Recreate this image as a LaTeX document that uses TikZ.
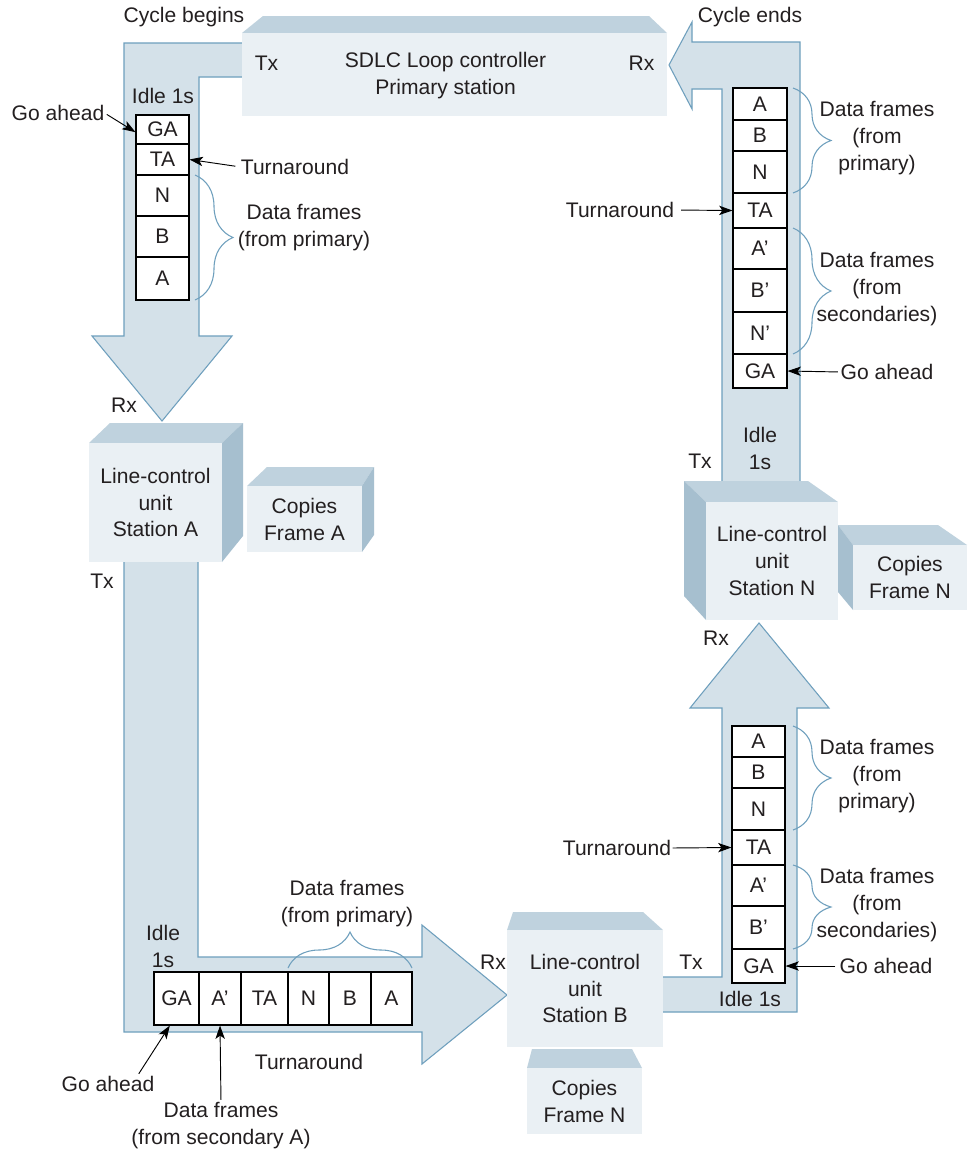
\documentclass[tikz,border=0pt]{standalone}
\usepackage{fontspec}
\setmainfont{Liberation Sans}
\usetikzlibrary{arrows.meta,decorations.pathreplacing,calc}
\definecolor{pipefill}{HTML}{D4E1E9}
\definecolor{pipeline}{HTML}{6E9FBD}
\definecolor{boxfront}{HTML}{EAF0F4}
\definecolor{boxtop}{HTML}{BFD2DE}
\definecolor{boxside}{HTML}{A6BFCF}
\definecolor{txt}{HTML}{231F20}
\newcommand{\cellnode}[6]{\node[cell, minimum width={(#4-#2)*0.75pt}, minimum height={(#5-#3)*0.75pt}] (#1) at ({(#2+#4)/2},{(#3+#5)/2}) {#6};}
\newcommand{\facenode}[6]{\node[front, minimum width={(#4-#2)*0.75pt}, minimum height={(#5-#3)*0.75pt}] (#1) at ({(#2+#4)/2},{(#3+#5)/2}) {#6};}
\begin{document}
\begin{tikzpicture}[x=0.75pt,y=-0.75pt,
  every node/.style={font=\fontsize{15.8}{20.2}\selectfont, text=txt},
  pipe/.style={fill=pipefill, draw=pipeline, line width=0.8pt, line join=miter},
  front/.style={fill=boxfront, draw=none, inner sep=0pt, align=center},
  topface/.style={fill=boxtop},
  sideface/.style={fill=boxside},
  cell/.style={draw=black, fill=white, line width=0.8pt, inner sep=0pt},
  lbl/.style={inner sep=0pt, align=center},
  arr/.style={-{Stealth[length=10pt,width=7pt,inset=2.5pt]}, line width=0.7pt, draw=black},
  brc/.style={draw=pipeline, line width=0.8pt, decorate, decoration={brace, amplitude=#1}},
]
\useasboundingbox[fill=white] (0,0) rectangle (968,1153);

% ---------- pipes ----------
\draw[pipe] (250,43) -- (124,43) -- (124,336) -- (92,336) -- (162,421) -- (232,336) -- (199,336) -- (199,77) -- (250,77);
\draw[pipe] (669,65) -- (692,22) -- (692,42) -- (800,42) -- (800,492) -- (722,492) -- (722,89) -- (692,89) -- (692,109) -- cycle;
\draw[pipe] (198,550) -- (198,957) -- (422,957) -- (422,925) -- (507,995) -- (422,1064) -- (422,1032) -- (124,1032) -- (124,550);
\draw[pipe] (655,977) -- (722,977) -- (722,708) -- (690,708) -- (759,623) -- (829,708) -- (797,708) -- (797,1012) -- (655,1012);

% ---------- SDLC primary station ----------
\fill[topface] (242,33) -- (263,16) -- (649,16) -- (667,33) -- cycle;
\facenode{sdlc}{242}{33}{667}{116}{}
\node[lbl] (sdlcT) at (445.5,76) {SDLC Loop controller\\Primary station};
\node[lbl] (sdlcTx) at (266.5,63) {Tx};
\node[lbl] (sdlcRx) at (641.5,63) {Rx};

% ---------- Station A ----------
\fill[topface] (89,443) -- (110,423) -- (243,423) -- (222,443) -- cycle;
\fill[sideface] (222,443) -- (243,423) -- (243,536) -- (222,562) -- cycle;
\facenode{stA}{89}{443}{222}{562}{Line-control\\unit\\Station A}
\fill[topface] (247,486) -- (267,467) -- (374,467) -- (362,486) -- cycle;
\fill[sideface] (362,486) -- (374,467) -- (374,535) -- (362,552) -- cycle;
\facenode{cpA}{247}{486}{362}{552}{Copies\\Frame A}

% ---------- Station N ----------
\fill[topface] (684,481) -- (808,481) -- (838,502) -- (706,502) -- cycle;
\fill[sideface] (684,481) -- (706,502) -- (706,620) -- (684,596) -- cycle;
\facenode{stN}{706}{502}{838}{620}{Line-control\\unit\\Station N}
\fill[topface] (838,525) -- (938,525) -- (967,545) -- (853,545) -- cycle;
\fill[sideface] (838,525) -- (853,545) -- (853,610) -- (838,592) -- cycle;
\facenode{cpN}{853}{545}{967}{610}{Copies\\Frame N}

% ---------- Station B ----------
\fill[topface] (507,930) -- (513,912) -- (643,912) -- (663,930) -- cycle;
\facenode{stB}{507}{930}{663}{1047}{Line-control\\unit\\Station B}
\fill[topface] (527,1068) -- (532,1049) -- (632,1049) -- (642,1068) -- cycle;
\facenode{cpB}{527}{1068}{642}{1134}{Copies\\Frame N}

% ---------- frame cells: top left ----------
\cellnode{tlGA}{136}{115}{189}{144}{GA}
\cellnode{tlTA}{136}{144}{189}{175}{TA}
\cellnode{tlN}{136}{175}{189}{216}{N}
\cellnode{tlB}{136}{216}{189}{257}{B}
\cellnode{tlA}{136}{257}{189}{300}{A}

% ---------- frame cells: top right ----------
\cellnode{trA}{733}{88}{787}{120}{A}
\cellnode{trB}{733}{120}{787}{151}{B}
\cellnode{trN}{733}{151}{787}{193}{N}
\cellnode{trTA}{733}{193}{787}{228}{TA}
\cellnode{trAp}{733}{228}{787}{269}{A’}
\cellnode{trBp}{733}{269}{787}{312}{B’}
\cellnode{trNp}{733}{312}{787}{354}{N’}
\cellnode{trGA}{733}{354}{787}{388}{GA}

% ---------- frame cells: bottom right ----------
\cellnode{brA}{732}{726}{785}{757}{A}
\cellnode{brB}{732}{757}{785}{788}{B}
\cellnode{brN}{732}{788}{785}{830}{N}
\cellnode{brTA}{732}{830}{785}{865}{TA}
\cellnode{brAp}{732}{865}{785}{906}{A’}
\cellnode{brBp}{732}{906}{785}{949}{B’}
\cellnode{brGA}{732}{949}{785}{983}{GA}

% ---------- frame cells: bottom ----------
\cellnode{bGA}{154}{972}{199}{1025}{GA}
\cellnode{bAp}{199}{972}{241}{1025}{A’}
\cellnode{bTA}{241}{972}{288}{1025}{TA}
\cellnode{bN}{288}{972}{329}{1025}{N}
\cellnode{bB}{329}{972}{371}{1025}{B}
\cellnode{bA}{371}{972}{412}{1025}{A}

% ---------- labels ----------
\node[lbl] (cycB) at (184,17) {Cycle begins};
\node[lbl] (cycE) at (750,17) {Cycle ends};
\node[lbl] (idle1) at (163,96) {Idle 1s};
\node[lbl] (ga1) at (58,113) {Go ahead};
\node[lbl] (ta1) at (295,167) {Turnaround};
\node[lbl] (df1) at (304,228) {Data frames\\(from primary)};
\node[lbl] (rxA) at (124,405) {Rx};
\node[lbl] (txA) at (102,581) {Tx};

\node[lbl] (ta2) at (620,210) {Turnaround};
\node[lbl] (df2) at (877,138) {Data frames\\(from\\primary)};
\node[lbl] (df3) at (877,289) {Data frames\\(from\\secondaries)};
\node[lbl] (ga2) at (887,372) {Go ahead};
\node[lbl] (idle2) at (760,448) {Idle\\1s};
\node[lbl] (txN) at (700,461) {Tx};
\node[lbl] (rxN) at (716,638) {Rx};

\node[lbl] (ta3) at (617,848) {Turnaround};
\node[lbl] (df4) at (877,776) {Data frames\\(from\\primary)};
\node[lbl] (df5) at (877,905) {Data frames\\(from\\secondaries)};
\node[lbl] (ga3) at (886,966) {Go ahead};
\node[lbl] (txB) at (691,962) {Tx};
\node[lbl] (idle3) at (750,999) {Idle 1s};
\node[lbl] (rxB) at (493,962) {Rx};

\node[lbl] (idle4) at (163,946) {Idle\\1s};
\node[lbl] (df6) at (347,904) {Data frames\\(from primary)};
\node[lbl] (ta4) at (309,1062) {Turnaround};
\node[lbl] (ga4) at (108,1084) {Go ahead};
\node[lbl] (dsA) at (221,1126) {Data frames\\(from secondary A)};

% ---------- braces ----------
\draw[brc=28.5pt] (195,175) -- (195,300);
\draw[brc=28.5pt] (793,88) -- (793,193);
\draw[brc=28.5pt] (793,228) -- (793,354);
\draw[brc=28.5pt] (793,726) -- (793,830);
\draw[brc=28.5pt] (793,865) -- (793,949);
\draw[brc=27pt] (288,968) -- (412,968);

% ---------- arrows ----------
\draw[arr, shorten <=2pt] (ga1.east) -- ([yshift=-2pt]tlGA.west);
\draw[arr, shorten <=4pt] (ta1.west) -- (tlTA.east);
\draw[arr, shorten <=5pt] (ta2.east) -- (trTA.west);
\draw[arr, shorten <=2pt] (ga2.west) -- (trGA.east);
\draw[arr, shorten <=1pt] (ta3.east) -- (brTA.west);
\draw[arr, shorten <=3pt] (ga3.west) -- (brGA.east);
\draw[arr, shorten <=2pt] ([xshift=22pt]ga4.north) -- ([xshift=-5pt]bGA.south);
\draw[arr, shorten <=2pt] (dsA.north) -- (bAp.south);
\end{tikzpicture}
\end{document}
